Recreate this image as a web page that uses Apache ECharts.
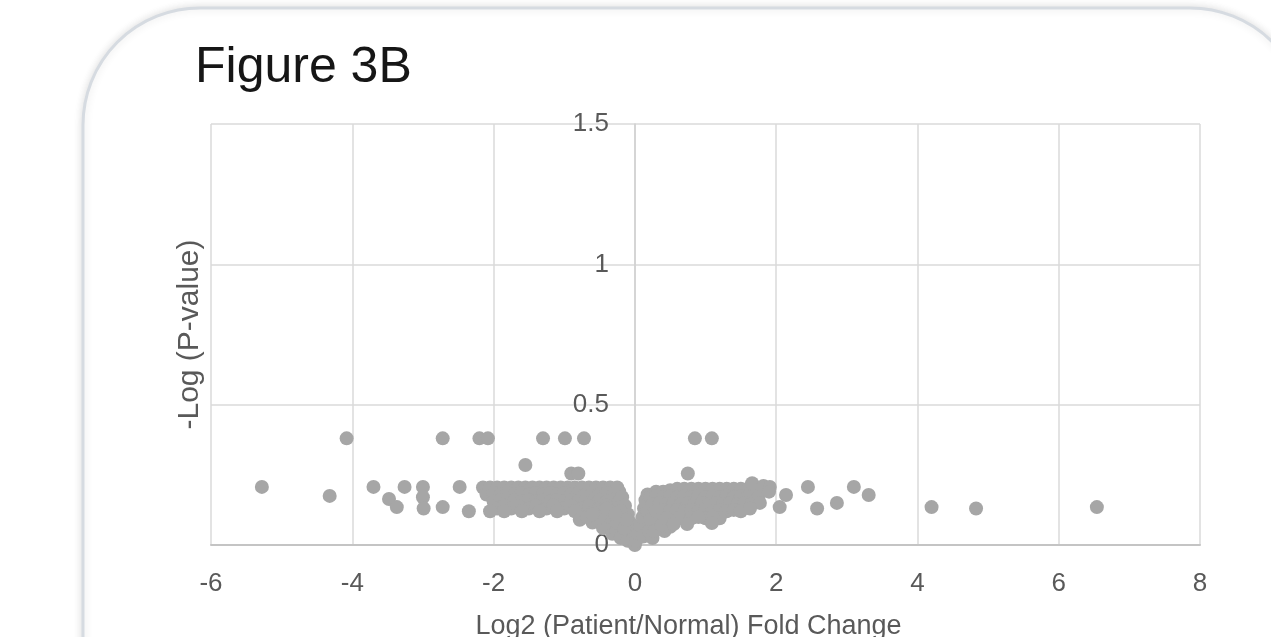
<!DOCTYPE html>
<html>
<head>
<meta charset="utf-8">
<script src="https://cdn.jsdelivr.net/npm/echarts@6/dist/echarts.min.js"></script>
<style>
html,body{margin:0;padding:0;background:#fff;}
#chart{width:1271px;height:637px;}
</style>
</head>
<body>
<div id="chart"></div>
<script>
// ---- data (Log2 fold change, -log P-value) ----
const titleText = 'Figure 3B';
const xAxisName = 'Log2 (Patient/Normal) Fold Change';
const yAxisName = '-Log (P-value)';
const xTicks = { min: -6, max: 8, interval: 2 };
const yTicks = { min: 0, max: 1.5, interval: 0.5 };

const topRow = [[-4.08,0.38],[-2.72,0.38],[-2.2,0.38],[-2.08,0.38],[-1.3,0.38],[-0.99,0.38],[-0.72,0.38],[0.85,0.38],[1.09,0.38]];

const leftOutliers = [[-5.28,0.207],[-4.32,0.175],[-3.7,0.207],[-3.48,0.164],[-3.37,0.135],[-3.26,0.207],[-3.0,0.207],[-3.0,0.17],[-2.99,0.13],[-2.72,0.135],[-2.48,0.207],[-2.35,0.12],[-1.55,0.285],[-0.9,0.255],[-0.8,0.255]];

const leftWing = [
 [-2.15,0.205],[-2.05,0.205],[-1.95,0.205],[-1.85,0.205],[-1.75,0.205],[-1.65,0.205],[-1.55,0.205],[-1.45,0.205],[-1.35,0.205],[-1.25,0.205],
 [-1.15,0.205],[-1.05,0.205],[-0.95,0.205],[-0.85,0.205],[-0.75,0.205],[-0.65,0.205],[-0.55,0.205],[-0.45,0.205],[-0.35,0.205],[-0.25,0.205],
 [-2.1,0.18],[-2.0,0.185],[-1.9,0.18],[-1.8,0.185],[-1.7,0.18],[-1.6,0.185],[-1.5,0.18],[-1.4,0.185],[-1.3,0.18],[-1.2,0.185],[-1.1,0.18],[-1.0,0.185],[-0.9,0.18],[-0.8,0.185],[-0.7,0.18],[-0.6,0.185],[-0.5,0.18],[-0.4,0.185],[-0.3,0.18],[-0.22,0.19],
 [-2.0,0.155],[-1.9,0.16],[-1.8,0.155],[-1.7,0.16],[-1.6,0.155],[-1.5,0.16],[-1.4,0.155],[-1.3,0.16],[-1.2,0.155],[-1.1,0.16],[-1.0,0.155],[-0.9,0.16],[-0.8,0.155],[-0.7,0.16],[-0.6,0.155],[-0.5,0.16],[-0.4,0.155],[-0.3,0.16],[-0.22,0.155],
 [-1.95,0.13],[-1.85,0.14],[-1.75,0.13],[-1.65,0.14],[-1.5,0.13],[-1.4,0.14],[-1.25,0.13],[-1.15,0.14],[-1.0,0.13],[-0.9,0.14],[-0.75,0.13],[-0.65,0.14],[-0.5,0.13],[-0.4,0.14],[-0.3,0.13],
 [-2.05,0.12],[-1.85,0.12],[-1.6,0.12],[-1.35,0.12],[-1.1,0.12],[-0.85,0.12],[-0.6,0.115]
];

const vShape = [
 [-0.78,0.09],[-0.68,0.1],[-0.6,0.08],[-0.52,0.09],[-0.45,0.06],[-0.38,0.07],[-0.32,0.04],[-0.26,0.05],[-0.2,0.025],[-0.1,0.015],[0.0,0.0],
 [-0.18,0.17],[-0.14,0.14],[-0.1,0.11],[-0.07,0.08],[-0.04,0.05],[-0.02,0.025],
 [-0.35,0.1],[-0.25,0.08],[-0.15,0.06],[-0.5,0.1],[-0.6,0.11],[-0.4,0.13],[-0.2,0.12],[-0.12,0.09],[-0.28,0.11],
 [0.02,0.015],[0.05,0.04],[0.08,0.07],[0.11,0.1],[0.13,0.13],[0.15,0.16],[0.18,0.18],
 [0.12,0.03],[0.2,0.05],[0.25,0.025],[0.3,0.08],[0.42,0.05],[0.35,0.11],[0.18,0.12],[0.22,0.09],[0.28,0.05],[0.38,0.07],[0.5,0.065]
];

const rightWing = [
 [0.3,0.19],[0.4,0.19],[0.5,0.195],[0.6,0.2],[0.7,0.2],[0.8,0.2],[0.9,0.2],[1.0,0.2],[1.1,0.2],[1.2,0.2],[1.3,0.2],[1.4,0.2],[1.5,0.2],[1.6,0.2],[1.7,0.2],[1.8,0.205],
 [0.22,0.17],[0.3,0.175],[0.4,0.17],[0.5,0.175],[0.6,0.17],[0.7,0.175],[0.8,0.17],[0.9,0.175],[1.0,0.17],[1.1,0.175],[1.2,0.17],[1.3,0.175],[1.4,0.17],[1.5,0.175],[1.6,0.17],[1.75,0.17],
 [0.25,0.145],[0.35,0.15],[0.45,0.145],[0.55,0.15],[0.65,0.145],[0.75,0.15],[0.85,0.145],[0.95,0.15],[1.05,0.145],[1.15,0.15],[1.25,0.145],[1.35,0.15],[1.45,0.145],[1.55,0.15],[1.65,0.145],[1.77,0.15],
 [0.3,0.12],[0.4,0.125],[0.5,0.12],[0.6,0.125],[0.7,0.12],[0.8,0.125],[0.9,0.12],[1.0,0.125],[1.1,0.12],[1.2,0.125],[1.3,0.12],[1.4,0.125],[1.5,0.12],[1.63,0.13],
 [0.45,0.095],[0.62,0.095],[0.8,0.095],[1.0,0.095],[1.2,0.095],[0.9,0.1],[1.1,0.1],
 [0.55,0.075],[0.74,0.075],[1.09,0.078],
 [0.75,0.255],[1.66,0.22],[1.82,0.21],[1.91,0.207],[1.9,0.19]
];

const rightOutliers = [[2.05,0.135],[2.14,0.178],[2.45,0.207],[2.58,0.13],[2.86,0.15],[3.1,0.207],[3.31,0.178],[4.2,0.135],[4.83,0.13],[6.54,0.135]];

const allPoints = [].concat(topRow, leftOutliers, leftWing, vShape, rightWing, rightOutliers);

const chart = echarts.init(document.getElementById('chart'), null, { renderer: 'canvas' });
const FONT = 'Liberation Sans, Arial, sans-serif';
const GRID = { left: 211, right: 71, top: 124, bottom: 92 };
const gridWidth = 1271 - GRID.left - GRID.right;
// y axis sits on x = 0
const yAxisOffset = -((0 - xTicks.min) / (xTicks.max - xTicks.min)) * gridWidth;

chart.setOption({
  backgroundColor: '#ffffff',
  animation: false,
  title: {
    text: titleText,
    left: 190,
    top: 38,
    textStyle: { fontFamily: FONT, fontSize: 50, fontWeight: 'normal', color: '#161616' }
  },
  graphic: [{
    type: 'rect',
    z: -10,
    shape: { x: 83, y: 8, width: 1224, height: 760, r: 117 },
    style: { fill: '#ffffff', stroke: '#d6dbe1', lineWidth: 3, shadowBlur: 8, shadowColor: 'rgba(0,0,0,0.12)' },
    silent: true
  }],
  grid: { left: GRID.left, right: GRID.right, top: GRID.top, bottom: GRID.bottom, containLabel: false, outerBoundsMode: 'none' },
  xAxis: {
    type: 'value',
    min: xTicks.min, max: xTicks.max, interval: xTicks.interval,
    name: xAxisName,
    nameLocation: 'middle',
    nameGap: 68,
    nameTextStyle: { fontFamily: FONT, fontSize: 27, color: '#595959', padding: [0, 34, 0, 0] },
    axisLine: { show: true, lineStyle: { color: '#c4c4c4', width: 2 } },
    axisTick: { show: false },
    axisLabel: { fontFamily: FONT, fontSize: 26, color: '#595959', margin: 26 },
    splitLine: { show: true, lineStyle: { color: '#dadada', width: 1.5 } }
  },
  yAxis: [{
    type: 'value',
    position: 'left',
    offset: yAxisOffset,
    min: yTicks.min, max: yTicks.max, interval: yTicks.interval,
    axisLine: { show: true, onZero: false, lineStyle: { color: '#d0d0d0', width: 1.5 } },
    axisTick: { show: false },
    axisLabel: { fontFamily: FONT, fontSize: 26, color: '#595959', margin: 26 },
    splitLine: { show: true, lineStyle: { color: '#dadada', width: 1.5 } }
  }, {
    type: 'value',
    position: 'left',
    min: yTicks.min, max: yTicks.max, interval: yTicks.interval,
    name: yAxisName,
    nameLocation: 'middle',
    nameGap: 6,
    nameTextStyle: { fontFamily: FONT, fontSize: 30, color: '#595959' },
    axisLine: { show: false, onZero: false },
    axisTick: { show: false },
    axisLabel: { show: false },
    splitLine: { show: false }
  }],
  series: [{
    type: 'scatter',
    xAxisIndex: 0,
    yAxisIndex: 0,
    data: allPoints,
    symbol: 'circle',
    symbolSize: 14,
    itemStyle: { color: '#a6a6a6', opacity: 1 },
    emphasis: { disabled: true }
  }]
});
</script>
</body>
</html>
